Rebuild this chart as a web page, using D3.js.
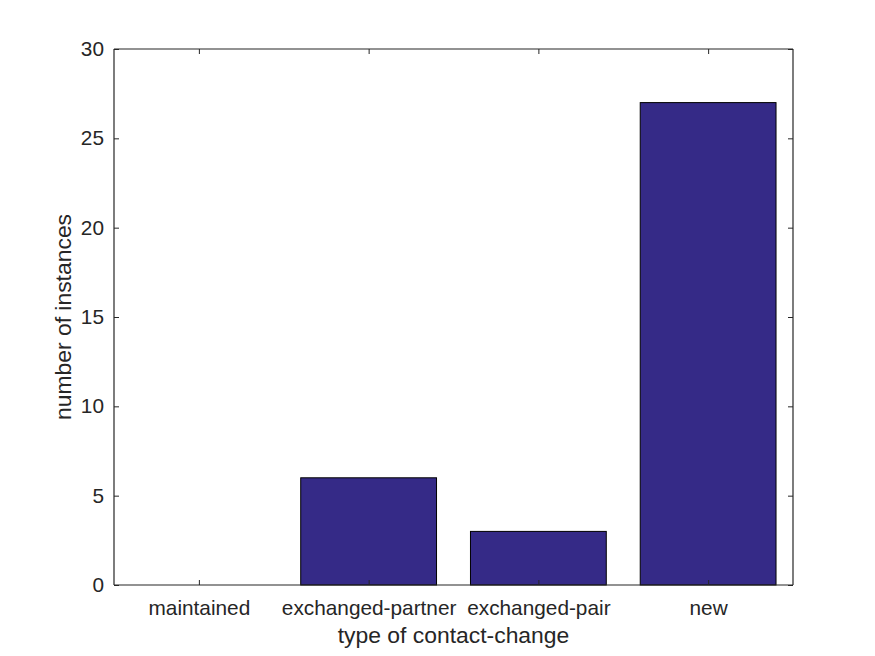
<!DOCTYPE html>
<html><head><meta charset="utf-8">
<script src="https://cdn.jsdelivr.net/npm/d3@7"></script>
<style>body{margin:0;background:#fff}svg{display:block}text{font-family:"Liberation Sans",Arial,sans-serif;fill:#262626}</style>
</head><body><svg id="c" width="875" height="656"></svg>
<script>
const categories = ["maintained","exchanged-partner","exchanged-pair","new"];
const counts = [0, 6, 3, 27];
const yTicks = [0,5,10,15,20,25,30];
const xTitle = "type of contact-change";
const yTitle = "number of instances";

const svg = d3.select("#c");
const L=114, R=793, T=49, B=585;
const x = d3.scaleLinear().domain([0.5, categories.length+0.5]).range([L,R]);
const y = d3.scaleLinear().domain([0,30]).range([B,T]);
const bw = (x(1.4)-x(0.6));

svg.append("rect").attr("x",0).attr("y",0).attr("width",875).attr("height",656).attr("fill","#fff");

svg.selectAll("rect.bar").data(counts).enter().append("rect").attr("class","bar")
  .attr("x",(d,i)=>x(i+1)-bw/2).attr("width",bw)
  .attr("y",d=>y(d)).attr("height",d=>y(0)-y(d))
  .attr("fill","#352a87").attr("stroke","#000").attr("stroke-width",1)
  .style("display",d=>d>0?null:"none");

const tf = 20.8;
const gL = svg.append("g").attr("transform",`translate(${L},0)`)
  .call(d3.axisLeft(y).tickValues(yTicks).tickSize(-5).tickPadding(10).tickFormat(d3.format("d")));
const gR = svg.append("g").attr("transform",`translate(${R},0)`)
  .call(d3.axisRight(y).tickValues(yTicks).tickSize(-5).tickFormat(""));
const xt = categories.map((c,i)=>i+1);
const gB = svg.append("g").attr("transform",`translate(0,${B})`)
  .call(d3.axisBottom(x).tickValues(xt).tickSize(-5).tickPadding(15).tickFormat((d,i)=>categories[i]));
const gT = svg.append("g").attr("transform",`translate(0,${T})`)
  .call(d3.axisTop(x).tickValues(xt).tickSize(-5).tickFormat(""));
[gL,gR,gB,gT].forEach(g=>{
  g.select(".domain").attr("stroke","#262626").attr("stroke-width",1.2);
  g.selectAll(".tick line").attr("stroke","#262626").attr("stroke-width",1);
  g.selectAll("text").style("font-size",tf+"px").attr("fill","#262626").style("font-family","'Liberation Sans',Arial,sans-serif");
});
gL.select(".domain").attr("d",`M0,${B}V${T}`);
gR.select(".domain").attr("d",`M0,${B}V${T}`);
gB.select(".domain").attr("d",`M${L},0H${R}`);
gT.select(".domain").attr("d",`M${L},0H${R}`);

svg.append("text").attr("x",(L+R)/2).attr("y",643).attr("text-anchor","middle")
  .style("font-size","22.9px").text(xTitle);
svg.append("text").attr("transform",`translate(71,${(T+B)/2}) rotate(-90)`).attr("text-anchor","middle")
  .style("font-size","22.9px").text(yTitle);
</script></body></html>
